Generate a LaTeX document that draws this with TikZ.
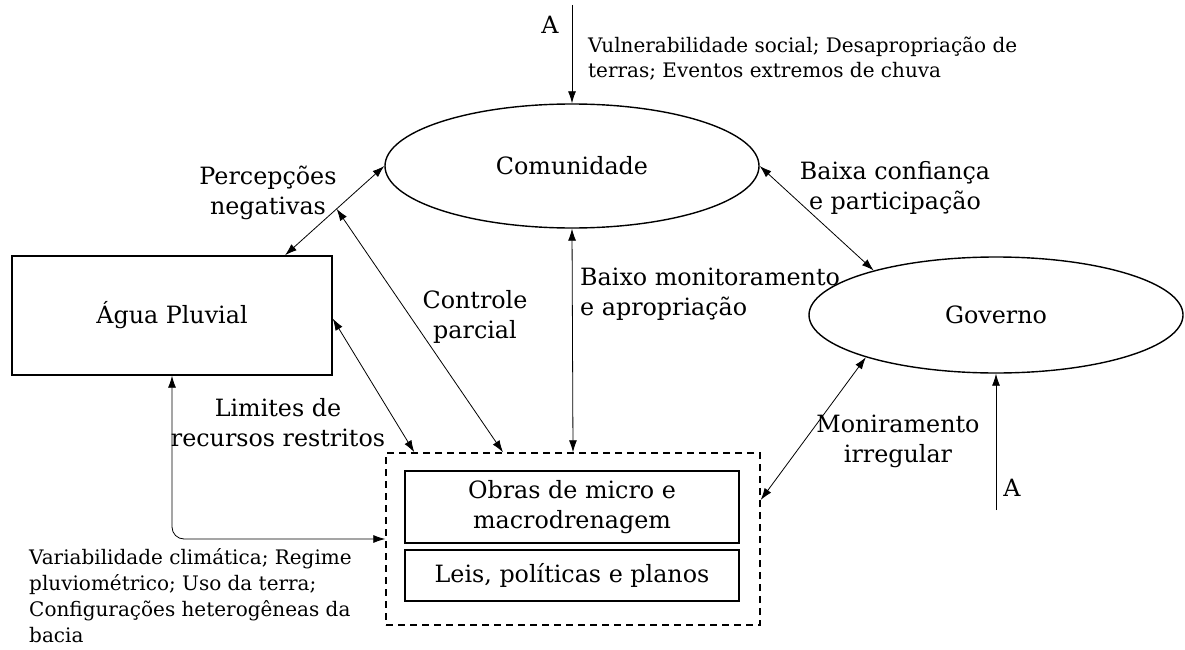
\documentclass[tikz,border=0pt]{standalone}
\usepackage{fontspec}
\setmainfont{DejaVu Serif}
\usetikzlibrary{shapes.geometric,arrows.meta,calc}
\newcommand{\mainsz}{\fontsize{23.8}{30}\selectfont}
\newcommand{\smallsz}{\fontsize{20}{25.8}\selectfont}
\begin{document}
\begin{tikzpicture}[x=1pt,y=-1pt,
  ell/.style={ellipse,draw,line width=1.4pt,inner sep=0pt,font=\mainsz},
  boxn/.style={rectangle,draw,line width=1.4pt,inner sep=0pt,font=\mainsz,align=center},
  conn/.style={line width=0.8pt,{Latex[length=12pt,width=8pt]}-{Latex[length=12pt,width=8pt]}},
  oneway/.style={line width=0.8pt,-{Latex[length=12pt,width=8pt]}},
  lbl/.style={font=\mainsz,align=center,inner sep=0pt},
  sml/.style={font=\smallsz,align=left,inner sep=0pt}]
\useasboundingbox (0,0) rectangle (1185,650);
\node[ell,minimum width=374pt,minimum height=124pt] (com) at (572,166) {Comunidade};
\node[ell,minimum width=374pt,minimum height=116pt] (gov) at (996,315) {Governo};
\node[boxn,minimum width=320pt,minimum height=119pt] (agua) at (172,315.5) {Água Pluvial};
\node[rectangle,draw,line width=1.4pt,minimum width=374pt,minimum height=172pt,inner sep=0pt,dash pattern=on 7pt off 5pt] (dash) at (573,539) {};
\node[boxn,minimum width=334pt,minimum height=72pt] (obras) at (572,507) {Obras de micro e\\macrodrenagem};
\node[boxn,minimum width=334pt,minimum height=51pt] (leis) at (572,575.5) {Leis, políticas e planos};

\coordinate (atop) at (572,5);
\coordinate (abot) at (996,510);
\coordinate (aguatop) at ([xshift=113pt]agua.north);
\coordinate (percmid) at ($(com.west)!0.48!(aguatop)$);

\draw[oneway] (atop) -- (com.north);
\draw[oneway] (abot) -- (gov.south);
\draw[conn] (com.west) -- (aguatop);
\draw[conn] ([xshift=-70pt]dash.north) -- (percmid);
\draw[conn] ([yshift=-3pt]agua.east) -- ([xshift=29pt]dash.north west);
\draw[conn] (com.south) -- (dash.north);
\draw[conn] (com.east) -- (gov.160);
\draw[conn] (gov.198) -- ([yshift=39pt]dash.east);
\draw[conn,rounded corners=12pt] (agua.south) |- (dash.west);

\node[lbl] (la1) at (550,25) {A};
\node[lbl] (la2) at (1012,488) {A};
\node[sml,anchor=west] (lvul) at (588,58.5) {Vulnerabilidade social; Desapropriação de\\terras; Eventos extremos de chuva};
\node[lbl] (lperc) at (268,193) {Percepções\\negativas};
\node[lbl] (lctrl) at (475,317) {Controle\\parcial};
\node[lbl,align=left,anchor=west] (lbaixo) at (580,294) {Baixo monitoramento\\e apropriação};
\node[lbl] (lconf) at (895,188) {Baixa confiança\\e participação};
\node[lbl] (lmon) at (898,441) {Moniramento\\irregular};
\node[lbl] (llim) at (278,423) {Limites de\\recursos restritos};
\node[sml,anchor=west] (lvar) at (29,595.5) {Variabilidade climática; Regime\\pluviométrico; Uso da terra;\\Configurações heterogêneas da\\bacia};
\end{tikzpicture}
\end{document}
